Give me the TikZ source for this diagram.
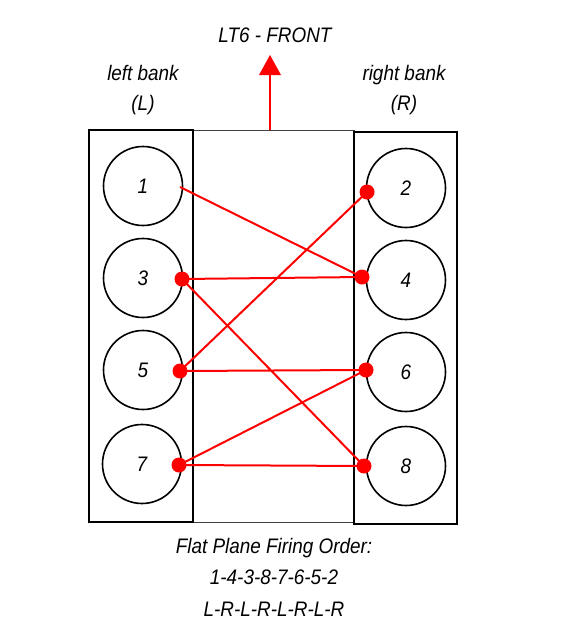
\documentclass[tikz,border=0pt]{standalone}
\usepackage{fontspec}
\setmainfont{Liberation Sans}[FakeStretch=0.9]
\begin{document}
\begin{tikzpicture}[x=1pt,y=-1pt,
  cyl/.style={draw=black,line width=1.6pt,circle,minimum size=79pt,inner sep=0pt,font=\itshape\fontsize{21}{21}\selectfont},
  bankbox/.style={draw=black,line width=1.8pt},
  midbox/.style={draw=black!75,line width=1pt},
  fire/.style={draw=red,line width=2pt},
  dot/.style={circle,fill=red,inner sep=0pt,minimum size=15pt},
  lbl/.style={font=\itshape\fontsize{21}{30}\selectfont,align=center}]
\useasboundingbox (0,0) rectangle (560,640);
% boxes
\draw[midbox] (192,130) rectangle (354,522);
\draw[bankbox] (89,130) rectangle (193,522);
\draw[bankbox] (354,132) rectangle (457,524);
% cylinders
\node[cyl] (c1) at (143,186) {1};
\node[cyl] (c3) at (143,278) {3};
\node[cyl] (c5) at (143,370) {5};
\node[cyl] (c7) at (142,464) {7};
\node[cyl] (c2) at (406,188) {2};
\node[cyl] (c4) at (406,280) {4};
\node[cyl] (c6) at (406,372) {6};
\node[cyl] (c8) at (406,466) {8};
% firing points
\coordinate (p1) at (180,187);
\coordinate (p2) at (367,192);
\coordinate (p3) at (182,279);
\coordinate (p4) at (362,277);
\coordinate (p5) at (180,371);
\coordinate (p6) at (366,370);
\coordinate (p7) at (179,465);
\coordinate (p8) at (364,466);
\draw[fire] (p1) -- (p4) -- (p3) -- (p8) -- (p7) -- (p6) -- (p5) -- (p2);
\foreach \p in {p2,p3,p4,p5,p6,p7,p8} \node[dot] at (\p) {};
% front arrow
\coordinate (mtop) at (270,130);
\node[lbl] (front) at (275,35) {LT6 - FRONT};
\coordinate (tip) at (270,55);
\draw[fire,line width=2.2pt] (mtop) -- (270,74);
\fill[red] (tip) -- (281,75) -- (259,75) -- cycle;
% bank labels
\node[lbl] (lb) at (143,90) {left bank\\(L)};
\node[lbl] (rb) at (404,90) {right bank\\(R)};
% firing order
\node[lbl,font=\itshape\fontsize{21}{31.5}\selectfont] (fo) at (274,577) {Flat Plane Firing Order:\\1-4-3-8-7-6-5-2\\L-R-L-R-L-R-L-R};
\end{tikzpicture}
\end{document}
